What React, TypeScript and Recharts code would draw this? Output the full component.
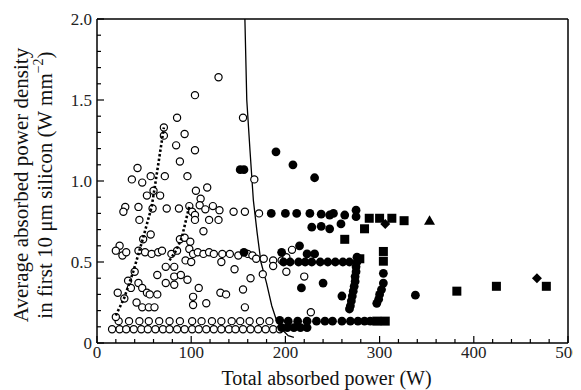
import React from "react";
import { ScatterChart, Scatter, XAxis, YAxis, Label } from "recharts";

const FONT = "Liberation Serif";

const xTicks = [0, 20, 40, 60, 80, 100, 120, 140, 160, 180, 200, 220, 240, 260, 280, 300, 320, 340, 360, 380, 400, 420, 440, 460, 480, 500];
const yTicks = [0, 0.1, 0.2, 0.3, 0.4, 0.5, 0.6, 0.7, 0.8, 0.9, 1.0, 1.1, 1.2, 1.3, 1.4, 1.5, 1.6, 1.7, 1.8, 1.9, 2.0];

// open circles, lowest row (~0.085 W/mm2)
const openRowLow = [16, 24, 31, 39, 47, 54, 62, 70, 77, 85, 93, 101, 108, 116, 124, 132, 140, 147, 155, 163, 171, 179, 187, 194];
// open circles, second row (~0.135 W/mm2)
const openRowHigh = [23, 34, 45, 55, 66, 77, 88, 101, 111, 122, 132, 143, 152, 162, 173, 183];

const openScatter: [number, number][] = [
  [129, 1.64], [104, 1.53], [155, 1.39], [85, 1.39], [71, 1.33], [71, 1.28], [93, 1.29], [84, 1.22], [104, 1.19], [88, 1.12],
  [43, 1.08], [167, 1.01], [37, 1.01], [57, 1.03], [72, 1.03], [96, 1.03], [48, 0.99], [60, 0.94], [53, 0.91], [67, 0.91],
  [105, 0.94], [117, 0.96], [110, 0.89],
  [30, 0.84], [28, 0.81], [44, 0.84], [59, 0.83], [74, 0.83], [87, 0.83], [98, 0.845], [101, 0.81], [104, 0.79], [109, 0.85],
  [115, 0.825], [123, 0.845], [130, 0.82], [145, 0.81], [157, 0.81], [172, 0.8],
  [45, 0.76], [104, 0.76], [119, 0.76], [129, 0.76], [113, 0.69], [57, 0.67], [49, 0.64], [88, 0.64], [93, 0.65], [99, 0.625],
  [24, 0.6], [20, 0.57], [27, 0.54], [31, 0.56], [44, 0.57], [51, 0.56], [58, 0.55], [65, 0.56], [69, 0.57], [79, 0.55],
  [85, 0.57], [98, 0.58], [102, 0.55], [107, 0.56], [113, 0.55], [119, 0.56], [124, 0.55], [133, 0.55], [141, 0.55],
  [150, 0.54], [160, 0.55], [165, 0.54], [169, 0.52], [177, 0.52], [187, 0.51], [196, 0.51], [201, 0.53], [207, 0.575],
  [73, 0.47], [82, 0.47], [94, 0.51], [100, 0.5], [132, 0.5], [146, 0.455],
  [40, 0.44], [33, 0.385], [44, 0.37], [22, 0.31], [29, 0.275], [36, 0.34], [48, 0.34], [53, 0.31], [56, 0.3], [64, 0.3],
  [42, 0.25], [48, 0.22], [55, 0.22], [61, 0.22], [20, 0.16],
  [64, 0.42], [73, 0.37], [82, 0.36], [82, 0.41], [89, 0.42], [96, 0.39], [102, 0.235], [102, 0.285], [108, 0.34], [116, 0.245],
  [131, 0.31], [137, 0.3], [155, 0.33], [157, 0.22], [163, 0.4], [176, 0.425], [187, 0.475], [201, 0.44], [220, 0.41], [227, 0.19]
];

const filledCircles: [number, number][] = [
  [152, 1.07], [156, 1.07], [190, 1.18], [208, 1.1], [231, 1.02],
  [185, 0.8], [200, 0.8], [212, 0.8], [226, 0.8], [238, 0.795], [247, 0.79], [251, 0.8], [263, 0.79], [275, 0.82], [275, 0.78],
  [228, 0.715], [238, 0.72], [247, 0.705], [259, 0.735],
  [156, 0.56], [196, 0.56], [215, 0.6], [223, 0.55], [231, 0.55],
  [198, 0.5], [205, 0.5], [214, 0.5], [221, 0.5], [228, 0.5], [237, 0.5], [245, 0.5], [253, 0.5], [261, 0.5], [268, 0.5],
  [276, 0.53], [276, 0.5], [275, 0.47], [275, 0.44], [274, 0.41], [274, 0.38], [273, 0.35], [272, 0.32], [271, 0.29],
  [270, 0.26], [269, 0.23], [268, 0.21],
  [304, 0.43], [304, 0.37], [302, 0.33], [300, 0.3], [299, 0.27], [297, 0.245],
  [240, 0.37], [217, 0.34], [260, 0.29], [338, 0.295],
  [194, 0.14], [203, 0.135], [213, 0.135], [223, 0.135], [233, 0.135], [242, 0.135], [250, 0.135], [260, 0.135],
  [269, 0.135], [277, 0.135], [284, 0.135], [290, 0.135],
  [196, 0.095], [202, 0.095], [209, 0.095], [216, 0.095], [223, 0.095]
];

const filledSquares: [number, number][] = [
  [289, 0.77], [300, 0.77], [313, 0.77], [326, 0.755], [284, 0.705], [263, 0.64],
  [279, 0.52], [304, 0.565], [304, 0.505], [297, 0.135], [306, 0.135],
  [382, 0.32], [424, 0.35], [477, 0.35]
];

const filledTriangles: [number, number][] = [[353, 0.755]];
const filledDiamonds: [number, number][] = [[306, 0.735], [467, 0.4]];

// dotted guide lines
const dottedA: [number, number][] = [[20, 0.17], [29, 0.28], [38.5, 0.44], [48.5, 0.64], [58, 0.84], [61, 0.95], [71, 1.33]];
const dottedB: [number, number][] = [[77, 0.51], [84, 0.57], [90, 0.65], [98, 0.845]];

// solid limit curve
const limitCurve: [number, number][] = [
  [157, 2.0], [159, 1.5], [162.4, 1.19], [166, 0.88], [170, 0.68], [174, 0.5], [180, 0.37], [185.5, 0.23],
  [190.5, 0.14], [197, 0.08], [203, 0.045], [209, 0.035]
];

const pts = (a: [number, number][]) => a.map(([x, y]) => ({ x, y }));
const row = (xs: number[], y: number) => xs.map((x) => ({ x, y }));

const OpenDot = (p: any) => <circle cx={p.cx} cy={p.cy} r={3.6} fill="#fff" stroke="#000" strokeWidth={1.2} />;
const FilledDot = (p: any) => <circle cx={p.cx} cy={p.cy} r={4.4} fill="#000" />;
const SquareMark = (p: any) => <rect x={p.cx - 4.5} y={p.cy - 4.5} width={9} height={9} fill="#000" />;
const TriangleMark = (p: any) => (
  <polygon points={`${p.cx},${p.cy - 5.5} ${p.cx + 5.5},${p.cy + 4} ${p.cx - 5.5},${p.cy + 4}`} fill="#000" />
);
const DiamondMark = (p: any) => (
  <polygon points={`${p.cx},${p.cy - 5} ${p.cx + 5},${p.cy} ${p.cx},${p.cy + 5} ${p.cx - 5},${p.cy}`} fill="#000" />
);
const NoMark = () => <g />;

const isMajorX = (v: number) => v % 100 === 0;
const isMajorY = (v: number) => Math.abs(v * 2 - Math.round(v * 2)) < 1e-6;
const fmtY = (v: number) => (v === 0 ? "0" : v.toFixed(1));

const txt = { fontFamily: FONT };

const BottomTick = ({ x, y, payload }: any) => {
  const major = isMajorX(payload.value);
  return (
    <g>
      <line x1={x} x2={x} y1={y} y2={y - (major ? 7 : 4)} stroke="#000" strokeWidth={1.2} />
      {major && (
        <text x={x} y={y + 15} textAnchor="middle" fontSize={17} style={txt} fill="#222">
          {payload.value}
        </text>
      )}
    </g>
  );
};

const TopTick = ({ x, y, payload }: any) => (
  <line x1={x} x2={x} y1={y} y2={y + (isMajorX(payload.value) ? 7 : 4)} stroke="#000" strokeWidth={1.2} />
);

const LeftTick = ({ x, y, payload }: any) => {
  const major = isMajorY(payload.value);
  return (
    <g>
      <line x1={x} x2={x + (major ? 7 : 4)} y1={y} y2={y} stroke="#000" strokeWidth={1.2} />
      {major && (
        <text x={x - 5} y={y + 6} textAnchor="end" fontSize={17} style={txt} fill="#222">
          {fmtY(payload.value)}
        </text>
      )}
    </g>
  );
};

const RightTick = ({ x, y, payload }: any) => (
  <line x1={x} x2={x - (isMajorY(payload.value) ? 7 : 4)} y1={y} y2={y} stroke="#000" strokeWidth={1.2} />
);

const YTitle = (props: any) => {
  const vb = props.viewBox || { x: 39, y: 11, width: 50, height: 324 };
  const cy = vb.y + vb.height / 2 + 4;
  const x1 = vb.x - 19;
  const x2 = vb.x + 5;
  return (
    <g style={txt} fontSize={21} fill="#111">
      <text x={x1} y={cy} textAnchor="middle" style={txt} transform={`rotate(-90, ${x1}, ${cy})`}>
        Average absorbed power density
      </text>
      <text x={x2} y={cy} textAnchor="middle" style={txt} transform={`rotate(-90, ${x2}, ${cy})`}>
        in first 10 μm silicon (W mm
        <tspan fontSize={14} dy={-9}>−2</tspan>
        <tspan dy={9}>)</tspan>
      </text>
    </g>
  );
};

const XTitle = (props: any) => {
  const vb = props.viewBox || { x: 89, y: 335, width: 471, height: 30 };
  return (
    <text x={vb.x + vb.width / 2 - 6} y={vb.y + 42} textAnchor="middle" style={txt} fontSize={20} fill="#111">
      Total absorbed power (W)
    </text>
  );
};

const axisLine = { stroke: "#000", strokeWidth: 1.5 };

export default function App() {
  return (
    <div style={{ width: 573, height: 382, background: "#fff", fontFamily: FONT }}>
      <ScatterChart width={573} height={382} margin={{ top: 0, right: 0, bottom: 17, left: 39 }}>
        <XAxis
          type="number"
          dataKey="x"
          domain={[0, 500]}
          ticks={xTicks}
          interval={0}
          height={30}
          tickSize={0}
          tickMargin={0}
          tickLine={false}
          axisLine={axisLine}
          tick={<BottomTick />}
        >
          <Label content={<XTitle />} />
        </XAxis>
        <XAxis
          xAxisId="top"
          orientation="top"
          type="number"
          dataKey="x"
          domain={[0, 500]}
          ticks={xTicks}
          interval={0}
          height={11}
          tickSize={0}
          tickMargin={0}
          tickLine={false}
          axisLine={axisLine}
          tick={<TopTick />}
        />
        <YAxis
          type="number"
          dataKey="y"
          domain={[0, 2]}
          ticks={yTicks}
          interval={0}
          width={50}
          tickSize={0}
          tickMargin={0}
          tickLine={false}
          axisLine={axisLine}
          tick={<LeftTick />}
        >
          <Label content={<YTitle />} />
        </YAxis>
        <YAxis
          yAxisId="right"
          orientation="right"
          type="number"
          dataKey="y"
          domain={[0, 2]}
          ticks={yTicks}
          interval={0}
          width={13}
          tickSize={0}
          tickMargin={0}
          tickLine={false}
          axisLine={axisLine}
          tick={<RightTick />}
        />
        <Scatter data={pts(limitCurve)} fill="#000" line={{ stroke: "#000", strokeWidth: 1.3 }} lineType="joint" shape={<NoMark />} isAnimationActive={false} />
        <Scatter data={row(openRowLow, 0.085)} shape={<OpenDot />} isAnimationActive={false} />
        <Scatter data={row(openRowHigh, 0.135)} shape={<OpenDot />} isAnimationActive={false} />
        <Scatter data={pts(openScatter)} shape={<OpenDot />} isAnimationActive={false} />
        <Scatter data={pts(dottedA)} fill="#000" line={{ stroke: "#000", strokeWidth: 2.6, strokeDasharray: "2.4 2.2" }} lineType="joint" shape={<NoMark />} isAnimationActive={false} />
        <Scatter data={pts(dottedB)} fill="#000" line={{ stroke: "#000", strokeWidth: 2.6, strokeDasharray: "2.4 2.2" }} lineType="joint" shape={<NoMark />} isAnimationActive={false} />
        <Scatter data={pts(filledCircles)} shape={<FilledDot />} isAnimationActive={false} />
        <Scatter data={pts(filledSquares)} shape={<SquareMark />} isAnimationActive={false} />
        <Scatter data={pts(filledTriangles)} shape={<TriangleMark />} isAnimationActive={false} />
        <Scatter data={pts(filledDiamonds)} shape={<DiamondMark />} isAnimationActive={false} />
      </ScatterChart>
    </div>
  );
}
